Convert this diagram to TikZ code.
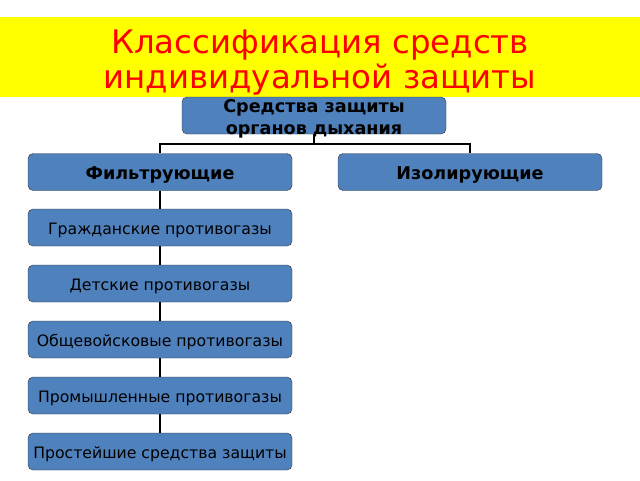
\documentclass[tikz,border=0pt]{standalone}
\usepackage{fontspec}
\setmainfont{DejaVu Sans}
\usepackage{tikz}
\usetikzlibrary{positioning}

\definecolor{boxblue}{HTML}{4F81BD}
\definecolor{titlered}{HTML}{FF0000}
\definecolor{bandyellow}{HTML}{FFFF00}

\tikzset{
    bluebox/.style={draw=black!80, fill=boxblue, rounded corners=5pt, minimum width=264pt, minimum height=37pt, inner sep=0pt, align=center, text height=13.5pt, text depth=0.5pt, font=\fontsize{15.7}{18}\selectfont},
    headbox/.style={bluebox, text height=15pt, text depth=0pt, font=\bfseries\fontsize{17.6}{21}\selectfont},
    link/.style={draw=black, line width=1.6pt}
}

\begin{document}
\begin{tikzpicture}[x=1pt, y=-1pt]
        \useasboundingbox (0,0) rectangle (640,480);

        % draw title band
        \fill[bandyellow] (0,17) rectangle (640,97);
        \node[text=titlered, align=center, font=\fontsize{32.4}{35}\selectfont] (title) at (320,63) {Классификация средств\\индивидуальной защиты};

        % draw head boxes
        \node[headbox, text height=, text depth=] (top) at (314,115.5) {\raisebox{-8pt}[0pt][0pt]{\begin{tabular}{@{}c@{}}Средства защиты\\[1pt] органов дыхания\end{tabular}}};
        \node[headbox] (filt) at (160,172) {Фильтрующие};
        \node[headbox] (isol) at (470,172) {Изолирующие};

        % draw connectors of head boxes
        \coordinate (fork) at (314,144);
        \draw[link] (top.south) -- (fork);
        \draw[link] (fork) -| (filt.north);
        \draw[link] (fork) -| (isol.north);

        % draw list of filtering means
        \foreach \n/\y/\t in {1/227.5/Гражданские противогазы, 2/283.5/Детские противогазы, 3/339.5/Общевойсковые противогазы, 4/395.5/Промышленные противогазы, 5/451.5/Простейшие средства защиты}
            \node[bluebox] (item\n) at (160,\y) {\t};

        % draw vertical lines
        \draw[link] (filt) -- (item1);
        \foreach \a/\b in {1/2,2/3,3/4,4/5}
            \draw[link] (item\a) -- (item\b);
        \end{tikzpicture}
\end{document}
